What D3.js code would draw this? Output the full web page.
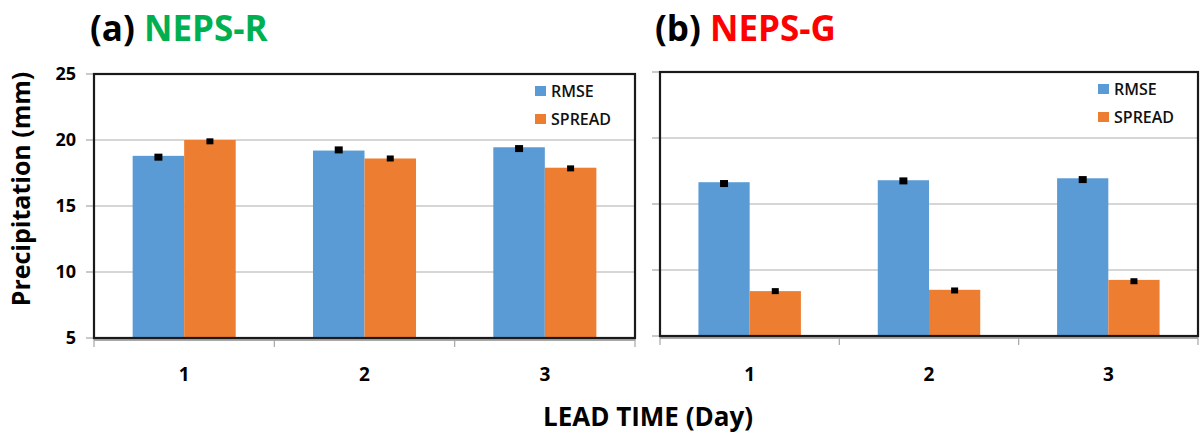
<!DOCTYPE html>
<html>
<head>
<meta charset="utf-8">
<script src="https://cdn.jsdelivr.net/npm/d3@7"></script>
<style>
  body { margin: 0; background: #fff; }
  text { font-family: "Open Sans", Lato, sans-serif; }
</style>
</head>
<body>
<script>
// lead time categories and series
let days = ["1", "2", "3"];
let seriesNames = ["RMSE", "SPREAD"];
let seriesColors = ["#5b9bd5", "#ed7d31"];
let yTicks = [5, 10, 15, 20, 25];

// (a) NEPS-R
let regRmse = [18.8, 19.2, 19.45];
let regSpread = [20.0, 18.6, 17.9];
let regRmseMark = [18.7, 19.25, 19.35];
let regSpreadMark = [19.9, 18.6, 17.85];

// (b) NEPS-G
let globRmse = [16.65, 16.8, 16.95];
let globSpread = [8.4, 8.5, 9.25];
let globRmseMark = [16.55, 16.75, 16.85];
let globSpreadMark = [8.4, 8.45, 9.15];

let svg = d3.select('body')
  .append('svg')
  .attr("width", 1204)
  .attr("height", 434);

drawPanel({ left: 94, right: 635, top: 74, bottom: 338, title: "NEPS-R", tag: "(a)", color: "#00b050", tx: 90,
  rmse: regRmse, spread: regSpread, rmseMark: regRmseMark, spreadMark: regSpreadMark, yLabels: true });
drawPanel({ left: 660, right: 1198, top: 72, bottom: 336, title: "NEPS-G", tag: "(b)", color: "#ff0000", tx: 655,
  rmse: globRmse, spread: globSpread, rmseMark: globRmseMark, spreadMark: globSpreadMark, yLabels: false });

// y axis title
svg.append("text")
  .attr("transform", "translate(30,189) rotate(-90)")
  .attr("text-anchor", "middle")
  .attr("font-size", 25)
  .attr("font-weight", "bold")
  .text("Precipitation (mm)");

// x axis title
svg.append("text")
  .attr("x", 648)
  .attr("y", 426)
  .attr("text-anchor", "middle")
  .attr("font-size", 26)
  .attr("font-weight", "bold")
  .text("LEAD TIME (Day)");

function drawPanel(p) {
  let g = svg.append("g");

  let y = d3.scaleLinear().domain([5, 25]).range([p.bottom, p.top]);
  let x = d3.scaleBand().domain(days).range([p.left, p.right]).paddingInner(0).paddingOuter(0);
  let inner = d3.scaleBand().domain(seriesNames).range([0, x.bandwidth()]).paddingOuter(0.75).paddingInner(0);

  // title
  let title = g.append("text")
    .attr("x", p.tx)
    .attr("y", 41)
    .attr("font-size", 35)
    .attr("font-weight", "bold");
  title.append("tspan").attr("fill", "#000").text(p.tag + " ");
  title.append("tspan").attr("fill", p.color).text(p.title);

  // gridlines
  g.selectAll(".grid")
    .data(yTicks.slice(1, -1))
    .join("line")
    .attr("x1", p.left).attr("x2", p.right)
    .attr("y1", d => y(d)).attr("y2", d => y(d))
    .attr("stroke", "#c8c8c8")
    .attr("stroke-width", 1.5);

  // y tick marks left of frame
  g.selectAll(".ytick")
    .data(yTicks)
    .join("line")
    .attr("x1", p.left - 8).attr("x2", p.left)
    .attr("y1", d => y(d)).attr("y2", d => y(d))
    .attr("stroke", "#a6a6a6")
    .attr("stroke-width", 1.2);

  if (p.yLabels) {
    g.selectAll(".ylab")
      .data(yTicks)
      .join("text")
      .attr("x", 76)
      .attr("y", d => y(d))
      .attr("dy", "0.36em")
      .attr("text-anchor", "end")
      .attr("font-size", 18)
      .attr("font-weight", "bold")
      .text(d => d);
  }

  // bars
  let groups = g.selectAll(".day")
    .data(days.map((d, i) => ({ day: d, vals: [p.rmse[i], p.spread[i]], marks: [p.rmseMark[i], p.spreadMark[i]] })))
    .join("g")
    .attr("transform", d => `translate(${x(d.day)},0)`);

  groups.selectAll("rect")
    .data(d => d.vals.map((v, j) => ({ name: seriesNames[j], v: v, c: seriesColors[j] })))
    .join("rect")
    .attr("x", d => inner(d.name))
    .attr("width", inner.bandwidth())
    .attr("y", d => y(d.v))
    .attr("height", d => p.bottom - y(d.v))
    .attr("fill", d => d.c);

  groups.selectAll(".mark")
    .data(d => d.marks.map((v, j) => ({ name: seriesNames[j], v: v, s: j == 0 ? 8 : 7 })))
    .join("rect")
    .attr("x", d => inner(d.name) + inner.bandwidth() / 2 - d.s / 2)
    .attr("y", d => y(d.v) - d.s / 2 + 0.5)
    .attr("width", d => d.s)
    .attr("height", d => d.s - 1)
    .attr("fill", "#000");

  // x axis line and ticks under the frame
  g.append("line")
    .attr("x1", p.left).attr("x2", p.right)
    .attr("y1", p.bottom + 2).attr("y2", p.bottom + 2)
    .attr("stroke", "#8c8c8c")
    .attr("stroke-width", 1.5);

  let bounds = days.map(d => x(d)).concat([p.right]);
  g.selectAll(".xtick")
    .data(bounds)
    .join("line")
    .attr("x1", d => d).attr("x2", d => d)
    .attr("y1", p.bottom).attr("y2", p.bottom + 9)
    .attr("stroke", "#a6a6a6")
    .attr("stroke-width", 1.2);

  g.selectAll(".xlab")
    .data(days)
    .join("text")
    .attr("x", d => x(d) + x.bandwidth() / 2)
    .attr("y", 381)
    .attr("text-anchor", "middle")
    .attr("font-size", 19)
    .attr("font-weight", "bold")
    .text(d => d);

  // frame
  g.append("rect")
    .attr("x", p.left).attr("y", p.top)
    .attr("width", p.right - p.left)
    .attr("height", p.bottom - p.top)
    .attr("fill", "none")
    .attr("stroke", "#1a1a1a")
    .attr("stroke-width", 2.2);

  // legend
  let lx = p.right - 100;
  seriesNames.forEach((name, j) => {
    let ly = p.top + 12 + j * 28;
    g.append("rect")
      .attr("x", lx).attr("y", ly)
      .attr("width", 11).attr("height", 10)
      .attr("fill", seriesColors[j]);
    g.append("text")
      .attr("x", lx + 16)
      .attr("y", ly + 10.5)
      .attr("font-size", 16)
      .attr("font-weight", 600)
      .attr("fill", "#111")
      .text(name);
  });
}
</script>
</body>
</html>
